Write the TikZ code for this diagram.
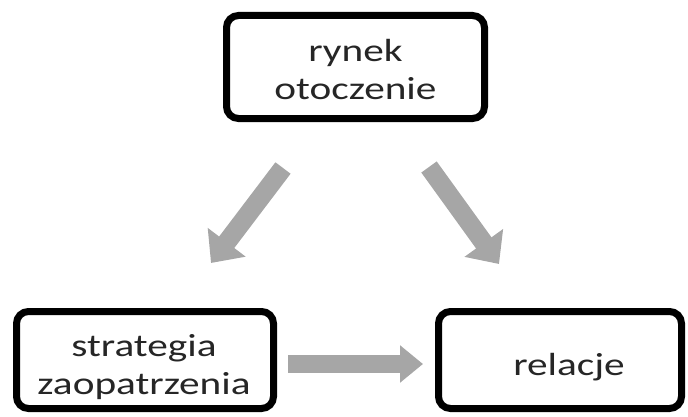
\documentclass[tikz,border=0pt]{standalone}
\usepackage{fontspec}
\setmainfont{Carlito}
\newfontfamily\boxfont[FakeStretch=1.29]{Carlito}
\usetikzlibrary{arrows.meta,shadows}
\begin{document}
\begin{tikzpicture}[x=1pt,y=1pt,
  box/.style={draw=black, line width=7pt, rounded corners=12pt, fill=white,
    inner sep=0pt, drop shadow={opacity=0.18, shadow xshift=2pt, shadow yshift=-2pt}},
  txt/.style={align=center, inner sep=0pt, font=\boxfont\fontsize{32}{38}\selectfont, text=black!85},
  bigarrow/.style={draw=black!35, line width=19pt,
    -{Triangle[width=46pt,length=26pt]}},
  harrow/.style={draw=black!35, line width=18pt,
    -{Triangle[width=36pt,length=23pt]}}]
\useasboundingbox (0,0) rectangle (688,416);
\node[box, minimum width=258pt, minimum height=103pt] (top) at (355.5,349) {};
\node[box, minimum width=257pt, minimum height=97pt] (left) at (145,56) {};
\node[box, minimum width=243pt, minimum height=97pt] (right) at (560,56) {};
\node[txt] (toptext) at ([yshift=-3pt]top.center) {rynek\\otoczenie};
\node[txt] (lefttext) at ([xshift=-1pt,yshift=-7pt]left.center) {strategia\\zaopatrzenia};
\node[txt] (righttext) at ([xshift=9pt,yshift=-7pt]right.center) {relacje};
\coordinate (a1s) at (283,248);
\coordinate (a1e) at (211,153);
\coordinate (a2s) at (429,249);
\coordinate (a2e) at (499,152);
\coordinate (a3s) at (288,52);
\coordinate (a3e) at (423,52);
\draw[bigarrow] (a1s) -- (a1e);
\draw[bigarrow] (a2s) -- (a2e);
\draw[harrow] (a3s) -- (a3e);
\end{tikzpicture}
\end{document}
